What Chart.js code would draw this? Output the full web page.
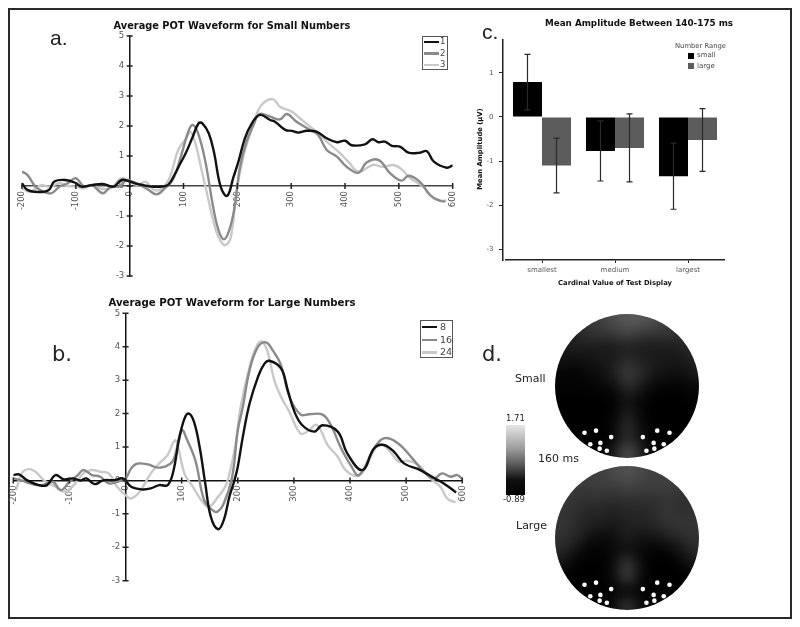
<!DOCTYPE html>
<html>
<head>
<meta charset="utf-8">
<title>POT waveforms</title>
<script src="https://cdn.jsdelivr.net/npm/chart.js@4"></script>
<style>
  html, body { margin: 0; background: #fff; }
  #page { position: relative; width: 800px; height: 627px; overflow: hidden; filter: blur(0.4px); font-family: "DejaVu Sans", sans-serif; color: #333; }
  #frame { position: absolute; left: 8px; top: 8px; width: 780px; height: 607px; border: 2px solid #2a2a2a; }
  canvas { position: absolute; }
  .txt { position: absolute; white-space: nowrap; line-height: 1; }
  .title { font-weight: bold; color: #111; transform: translateX(-50%); }
  .lg { position: absolute; border: 1px solid #555; box-sizing: border-box; background: #fff; }
  #colorbar { position: absolute; left: 506px; top: 425px; width: 19px; height: 70px;
    background: linear-gradient(to bottom, #e6e6e6 0%, #999 35%, #555 58%, #111 78%, #000 100%); }
</style>
</head>
<body>
<div id="page">
  <div id="frame"></div>
  <canvas id="chartA" width="464" height="280" style="left:0;top:20px"></canvas>
  <canvas id="chartB" width="480" height="300" style="left:0;top:300px"></canvas>
  <canvas id="chartC" width="260" height="270" style="left:470px;top:30px"></canvas>
  <canvas id="headSmall" width="144" height="144" style="left:555px;top:314px"></canvas>
  <canvas id="headLarge" width="144" height="144" style="left:555px;top:466px"></canvas>
  <div id="colorbar"></div>
</div>
<script>
// Panel a: [ms, µV]
const smallOne = [[-200,.09],[-190,-.13],[-170,-.2],[-150,-.13],[-140,.15],[-120,.2],[-100,.1],[-90,-.02],[-70,.03],[-50,.07],[-30,-.02],[-15,.2],[0,.15],[10,.09],[25,.03],[40,-.02],[60,-.02],[72,.05],[84,.4],[94,.75],[104,1.09],[116,1.59],[128,2.09],[135,2.09],[147,1.75],[157,1.09],[169,-.02],[181,-.33],[193,.31],[202,.81],[214,1.59],[227,2.09],[242,2.37],[261,2.2],[270,2.14],[289,1.87],[301,1.84],[313,1.78],[329,1.84],[347,1.81],[366,1.59],[385,1.46],[400,1.51],[412,1.36],[437,1.39],[451,1.56],[462,1.46],[474,1.48],[487,1.34],[502,1.31],[518,1.11],[539,1.11],[552,1.16],[565,.81],[589,.61],[600,.69]];
const smallTwo = [[-200,.48],[-190,.37],[-175,-.02],[-160,-.19],[-145,-.24],[-130,-.02],[-115,.09],[-100,.26],[-85,-.02],[-70,.03],[-50,-.24],[-35,-.02],[-20,-.02],[-5,.2],[5,.15],[20,.03],[35,-.13],[50,-.28],[65,-.08],[80,.2],[95,.98],[110,1.87],[118,2.03],[127,1.76],[140,.87],[155,-.69],[165,-1.47],[175,-1.78],[185,-1.47],[195,-.69],[205,.64],[217,1.48],[230,2.03],[241,2.4],[261,2.31],[279,2.22],[292,2.4],[310,2.14],[335,1.87],[350,1.7],[366,1.2],[385,.98],[403,.64],[425,.44],[440,.78],[462,.87],[484,.42],[505,.18],[518,.34],[539,.14],[558,-.3],[576,-.49],[586,-.52]];
const smallThree = [[-200,-.08],[-185,-.19],[-165,.03],[-150,-.02],[-130,.09],[-115,0],[-100,-.02],[-85,-.08],[-70,.03],[-55,-.08],[-35,-.08],[-15,.26],[0,.15],[15,.03],[30,.14],[45,-.13],[60,-.08],[75,.31],[90,1.2],[105,1.59],[113,1.81],[122,1.42],[135,.42],[145,-.36],[160,-1.47],[170,-1.86],[178,-1.97],[188,-1.69],[199,-.13],[211,.98],[224,1.76],[239,2.53],[251,2.81],[267,2.89],[279,2.64],[301,2.48],[316,2.26],[335,1.98],[350,1.76],[366,1.48],[391,1.09],[406,.81],[425,.48],[452,.7],[471,.64],[490,.7],[505,.56],[521,.26],[545,-.02],[564,-.41],[576,-.49],[588,-.49]];
// Panel b: [ms, µV]
const largeEight = [[-200,.16],[-190,.18],[-175,0],[-155,-.14],[-140,-.14],[-125,.16],[-110,.03],[-95,.06],[-80,0],[-70,.06],[-55,-.11],[-40,0],[-20,.01],[-5,.06],[10,-.19],[30,-.27],[45,-.24],[60,-.14],[75,-.14],[85,.26],[95,1.2],[105,1.85],[113,2.0],[122,1.75],[132,1.0],[142,-.09],[152,-1.09],[165,-1.46],[175,-1.19],[185,-.49],[194,0],[200,.41],[209,1.31],[221,2.3],[236,3.1],[247,3.48],[256,3.58],[277,3.35],[289,2.7],[301,2.05],[315,1.65],[336,1.46],[351,1.65],[378,1.46],[395,.81],[422,.31],[443,.96],[460,1.06],[478,.86],[496,.51],[525,.31],[549,.08],[567,-.09],[589,-.36]];
const largeSixteen = [[-200,.06],[-185,0],[-170,-.09],[-150,-.14],[-130,-.04],[-115,-.29],[-100,-.04],[-85,.16],[-75,.31],[-60,.16],[-45,.11],[-30,-.09],[-15,-.04],[0,.06],[10,.36],[20,.5],[40,.48],[55,.39],[70,.41],[85,.6],[100,1.5],[110,1.2],[125,.56],[140,-.59],[155,-.89],[163,-.94],[175,-.69],[190,.11],[200,1.5],[209,2.2],[221,3.3],[236,4.0],[250,4.13],[262,3.9],[277,3.45],[292,2.5],[312,1.97],[327,1.98],[351,1.97],[366,1.65],[383,1.0],[401,.46],[416,.16],[443,.96],[460,1.26],[484,1.13],[511,.66],[531,.26],[549,.06],[564,.21],[579,.11],[591,.16],[600,.04]];
const largeTwentyFour = [[-195,-.29],[-183,.26],[-165,.31],[-145,0],[-125,-.19],[-110,-.34],[-95,-.19],[-75,.21],[-60,.31],[-45,.26],[-30,.21],[-15,-.19],[0,-.44],[10,-.54],[25,-.34],[45,.21],[60,.51],[75,.76],[88,1.2],[95,.9],[105,.2],[120,-.19],[135,-.59],[148,-.79],[165,-.49],[180,-.09],[195,1.0],[205,2.2],[221,3.4],[233,4.0],[243,4.15],[253,3.85],[265,3.0],[277,2.5],[292,2.05],[312,1.4],[327,1.5],[339,1.67],[348,1.5],[360,1.06],[378,.71],[392,.31],[413,.13],[425,.31],[443,.91],[454,1.09],[469,.91],[487,.56],[502,.59],[522,.46],[543,.06],[561,-.19],[573,-.54],[588,-.66]];
const smallLabels = ['1', '2', '3'];
const largeLabels = ['8', '16', '24'];

// Panel c
const categories = ['smallest', 'medium', 'largest'];
const rangeLabels = ['small', 'large'];
const smallMeans = [.79, -.77, -1.34];
const largeMeans = [-1.1, -.7, -.52];
const smallErrors = [.63, .68, .75];
const largeErrors = [.62, .77, .71];

// Panel d: electrodes and amplitude grids (µV, top row = front of head)
const electrodeX = [-.59, -.43, -.22, -.51, -.37, -.38, -.28, .22, .42, .59, .37, .51, .38, .27];
const electrodeY = [-.65, -.62, -.71, -.81, -.79, -.87, -.90, -.71, -.62, -.65, -.79, -.81, -.87, -.90];
const topoSmall = [
  [-.35,-.35,-.35,-.25,-.1,0,0,-.1,-.25,-.35,-.35],
  [-.55,-.55,-.4,-.35,-.3,-.2,-.3,-.35,-.35,-.4,-.4],
  [-.65,-.55,-.6,-.6,-.6,-.55,-.6,-.6,-.6,-.55,-.45],
  [-.7,-.75,-.7,-.65,-.6,-.45,-.55,-.6,-.65,-.65,-.55],
  [-.85,-.85,-.8,-.75,-.55,-.3,-.45,-.65,-.7,-.75,-.65],
  [-.85,-.85,-.85,-.8,-.75,-.45,-.6,-.8,-.85,-.85,-.8],
  [-.89,-.89,-.89,-.89,-.85,-.7,-.8,-.89,-.89,-.89,-.85],
  [-.89,-.89,-.89,-.89,-.85,-.6,-.8,-.89,-.89,-.89,-.89],
  [-.89,-.89,-.89,-.89,-.8,-.45,-.75,-.89,-.89,-.89,-.89],
  [-.89,-.89,-.89,-.89,-.8,-.45,-.7,-.89,-.89,-.89,-.89],
  [-.89,-.89,-.89,-.89,-.6,-.1,-.5,-.89,-.89,-.89,-.89]
];
const topoLarge = [
  [-.25,-.25,-.25,-.25,-.15,-.05,-.15,-.25,-.25,-.25,-.25],
  [-.3,-.3,-.3,-.25,-.25,-.2,-.25,-.25,-.25,-.3,-.3],
  [-.35,-.35,-.4,-.4,-.45,-.4,-.4,-.4,-.35,-.4,-.4],
  [-.35,-.4,-.5,-.5,-.55,-.5,-.5,-.45,-.35,-.4,-.4],
  [-.35,-.45,-.55,-.6,-.65,-.55,-.55,-.5,-.4,-.35,-.35],
  [-.4,-.5,-.7,-.8,-.75,-.6,-.7,-.7,-.6,-.5,-.4],
  [-.5,-.7,-.85,-.85,-.8,-.7,-.8,-.85,-.85,-.7,-.5],
  [-.7,-.85,-.89,-.89,-.75,-.3,-.75,-.89,-.89,-.85,-.7],
  [-.85,-.89,-.89,-.89,-.75,-.3,-.75,-.89,-.89,-.89,-.85],
  [-.89,-.89,-.89,-.89,-.85,-.8,-.85,-.89,-.89,-.89,-.89],
  [-.89,-.89,-.89,-.89,-.75,-.4,-.75,-.89,-.89,-.89,-.89]
];

const lineColors = ['#111111', '#8a8a8a', '#c9c9c9'];
const barColors = ['#000000', '#5c5c5c'];
const page = document.getElementById('page');

function addText(text, x, y, size, extra) {
  const el = document.createElement('div');
  el.className = 'txt';
  el.textContent = text;
  el.style.cssText = `left:${x}px;top:${y}px;font-size:${size}px;${extra || ''}`;
  page.appendChild(el);
  return el;
}

function addTitle(text, cx, y, size) {
  addText(text, cx, y, size).classList.add('title');
}

function addLineLegend(labels, x, y, w, h, rows, swatchX, swatchW, textX, size) {
  const box = document.createElement('div');
  box.className = 'lg';
  box.style.cssText = `left:${x}px;top:${y}px;width:${w}px;height:${h}px`;
  page.appendChild(box);
  labels.forEach((label, i) => {
    const sw = document.createElement('div');
    sw.style.cssText = `position:absolute;left:${swatchX}px;top:${rows[i] - 1}px;width:${swatchW}px;height:2.5px;background:${lineColors[i]}`;
    page.appendChild(sw);
    addText(label, textX, rows[i] - size / 2, size, 'color:#444');
  });
}

// ticks that sit across the axis line, as in the original figure
const crossTicks = {
  id: 'crossTicks',
  afterDraw(chart) {
    const ctx = chart.ctx;
    const sx = chart.scales.x, sy = chart.scales.y;
    const x0 = sx.getPixelForValue(0), y0 = sy.getPixelForValue(0);
    ctx.save();
    ctx.strokeStyle = '#222';
    ctx.lineWidth = 1.5;
    ctx.beginPath();
    sx.ticks.forEach(t => {
      const p = sx.getPixelForValue(t.value);
      ctx.moveTo(p, y0 - 3);
      ctx.lineTo(p, y0 + 3);
    });
    sy.ticks.forEach(t => {
      const p = sy.getPixelForValue(t.value);
      ctx.moveTo(x0 - 3, p);
      ctx.lineTo(x0 + 3, p);
    });
    ctx.stroke();
    ctx.restore();
  }
};

// end labels must not shrink the plot area
function noScalePadding(scale) {
  scale.paddingLeft = 0;
  scale.paddingRight = 0;
  scale.paddingTop = 0;
  scale.paddingBottom = 0;
}

function waveformChart(id, seriesList, labels, padding, axisColor) {
  return new Chart(document.getElementById(id), {
    type: 'line',
    data: {
      datasets: seriesList.map((series, i) => ({
        label: labels[i],
        data: series.map(p => ({ x: p[0], y: p[1] })),
        borderColor: lineColors[i],
        borderWidth: 2.4,
        pointRadius: 0,
        tension: 0.4,
        fill: false
      }))
    },
    options: {
      responsive: false,
      animation: false,
      layout: { padding, autoPadding: false },
      plugins: { legend: { display: false }, tooltip: { enabled: false } },
      scales: {
        x: {
          type: 'linear',
          position: { y: 0 },
          min: -200,
          max: 600,
          afterFit: noScalePadding,
          grid: { drawOnChartArea: false, drawTicks: false },
          border: { color: axisColor, width: 1.5 },
          ticks: { stepSize: 100, autoSkip: false, minRotation: 90, maxRotation: 90, padding: 5, color: '#555', font: { size: 8.5, family: 'DejaVu Sans' } }
        },
        y: {
          type: 'linear',
          position: { x: 0 },
          min: -3,
          max: 5,
          afterFit: noScalePadding,
          grid: { drawOnChartArea: false, drawTicks: false },
          border: { color: '#111', width: 1.5 },
          // labels at an object position ignore ticks.padding, so pad the text itself
          ticks: { stepSize: 1, color: '#555', font: { size: 8.5, family: 'DejaVu Sans' }, callback: v => v + '\u00a0\u00a0' }
        }
      }
    },
    plugins: [crossTicks]
  });
}

waveformChart('chartA', [smallOne, smallTwo, smallThree], smallLabels,
  { left: 22, right: 11.3, top: 16, bottom: 24 }, '#444');
waveformChart('chartB', [largeEight, largeSixteen, largeTwentyFour], largeLabels,
  { left: 13.3, right: 17.7, top: 13.3, bottom: 19.3 }, '#111');

// error bars for the bar chart, measured through the y scale
const errorBars = {
  id: 'errorBars',
  afterDatasetsDraw(chart) {
    const ctx = chart.ctx;
    const yScale = chart.scales.y;
    ctx.save();
    ctx.strokeStyle = '#2a2a2a';
    ctx.lineWidth = 1.2;
    chart.data.datasets.forEach((ds, d) => {
      chart.getDatasetMeta(d).data.forEach((bar, i) => {
        const top = yScale.getPixelForValue(ds.data[i] + ds.errors[i]);
        const bottom = yScale.getPixelForValue(ds.data[i] - ds.errors[i]);
        ctx.beginPath();
        ctx.moveTo(bar.x, top);
        ctx.lineTo(bar.x, bottom);
        ctx.moveTo(bar.x - 3, top);
        ctx.lineTo(bar.x + 3, top);
        ctx.moveTo(bar.x - 3, bottom);
        ctx.lineTo(bar.x + 3, bottom);
        ctx.stroke();
      });
    });
    ctx.restore();
  }
};

new Chart(document.getElementById('chartC'), {
  type: 'bar',
  data: {
    labels: categories,
    datasets: [
      { label: rangeLabels[0], data: smallMeans, errors: smallErrors, backgroundColor: barColors[0] },
      { label: rangeLabels[1], data: largeMeans, errors: largeErrors, backgroundColor: barColors[1] }
    ]
  },
  options: {
    responsive: false,
    animation: false,
    layout: { padding: { left: 35.5, right: 5.5, top: 10, bottom: 13 }, autoPadding: false },
    plugins: { legend: { display: false }, tooltip: { enabled: false } },
    datasets: { bar: { categoryPercentage: 0.795, barPercentage: 1 } },
    scales: {
      x: {
        afterFit(scale) { noScalePadding(scale); scale.height = 27; },
        grid: { offset: false, drawOnChartArea: false, tickLength: 3, color: '#222' },
        border: { color: '#222', width: 1.5 },
        ticks: { color: '#555', padding: 3, font: { size: 7, family: 'DejaVu Sans' } },
        title: { display: true, text: 'Cardinal Value of Test Display', color: '#111', padding: { top: 3, bottom: 0 }, font: { size: 6.8, weight: 'bold', family: 'DejaVu Sans' } }
      },
      y: {
        position: { x: -0.544 },
        min: -3.24,
        max: 1.744,
        afterFit: noScalePadding,
        grid: { drawOnChartArea: false, tickLength: 3, color: '#222' },
        border: { color: '#222', width: 1.5 },
        ticks: { stepSize: 1, includeBounds: false, color: '#555', font: { size: 7, family: 'DejaVu Sans' }, callback: v => v + '\u00a0\u00a0\u00a0\u00a0' }
      }
    }
  },
  plugins: [errorBars]
});

// paints the amplitude grid inside the head circle, behind the electrodes
const headMap = {
  id: 'headMap',
  beforeDatasetsDraw(chart) {
    const grid = chart.config.options.plugins.headMap.grid;
    const { ctx, chartArea: a } = chart;
    const cols = grid[0].length, rows = grid.length;
    // one repeated cell round the edge so the blur does not fade at the rim
    const small = document.createElement('canvas');
    small.width = cols + 2;
    small.height = rows + 2;
    const sc = small.getContext('2d');
    for (let r = -1; r <= rows; r++) {
      for (let c = -1; c <= cols; c++) {
        const v = grid[Math.min(rows - 1, Math.max(0, r))][Math.min(cols - 1, Math.max(0, c))];
        const g = Math.round((v + 0.89) / 2.6 * 255);
        sc.fillStyle = `rgb(${g},${g},${g})`;
        sc.fillRect(c + 1, r + 1, 1, 1);
      }
    }
    const cx = chart.scales.x.getPixelForValue(0);
    const cy = chart.scales.y.getPixelForValue(0);
    const w = a.right - a.left;
    const cell = w / cols;
    ctx.save();
    ctx.beginPath();
    ctx.arc(cx, cy, w / 2, 0, Math.PI * 2);
    ctx.clip();
    ctx.imageSmoothingEnabled = true;
    ctx.imageSmoothingQuality = 'high';
    ctx.filter = 'blur(4px)';
    ctx.drawImage(small, a.left - cell, a.top - cell, w + 2 * cell, w + 2 * cell);
    ctx.restore();
  }
};

function headChart(id, grid) {
  return new Chart(document.getElementById(id), {
    type: 'scatter',
    data: {
      datasets: [{
        data: electrodeX.map((x, i) => ({ x, y: electrodeY[i] })),
        pointRadius: 2.3,
        pointBackgroundColor: '#fff',
        pointBorderWidth: 0
      }]
    },
    options: {
      responsive: false,
      animation: false,
      layout: { padding: 0, autoPadding: false },
      plugins: { legend: { display: false }, tooltip: { enabled: false }, headMap: { grid } },
      scales: {
        x: { display: false, min: -1, max: 1 },
        y: { display: false, min: -1, max: 1 }
      }
    },
    plugins: [headMap]
  });
}

headChart('headSmall', topoSmall);
headChart('headLarge', topoLarge);

// titles, panel letters, legends
addTitle('Average POT Waveform for Small Numbers', 232, 21, 9.8);
addTitle('Average POT Waveform for Large Numbers', 232, 298, 10.2);
addTitle('Mean Amplitude Between 140-175 ms', 639, 19, 8.8);
addText('a.', 50, 27, 21, 'font-family:\'Liberation Sans\';color:#222');
addText('b.', 52, 344, 21, 'color:#222');
addText('c.', 482, 21, 21, 'font-family:\'Liberation Sans\';color:#222');
addText('d.', 482, 344, 21, 'color:#222');
addText('Small', 515, 373, 11, 'color:#222');
addText('Large', 516, 520, 11, 'color:#222');
addText('160 ms', 538, 453, 11, 'color:#222');
addText('1.71', 506, 414, 8.5, 'color:#222');
addText('-0.89', 503, 495, 8.5, 'color:#222');
addText('Mean Amplitude (µV)', 480, 149, 6.8, 'font-weight:bold;color:#111;transform:translate(-50%,-50%) rotate(-90deg)');

addLineLegend(smallLabels, 422, 36, 26, 34, [41.7, 53, 64.7], 423.5, 15, 440, 8.5);
addLineLegend(largeLabels, 420, 320, 33, 38, [326.7, 339.7, 352], 421.5, 15, 440, 9.5);

addText('Number Range', 675, 43, 6.8, 'color:#444');
rangeLabels.forEach((label, i) => {
  const sw = document.createElement('div');
  sw.style.cssText = `position:absolute;left:688px;top:${52.7 + i * 10.5}px;width:6px;height:6px;background:${barColors[i]}`;
  page.appendChild(sw);
  addText(label, 697, 52 + i * 10.5, 7, 'color:#444');
});
</script>
</body>
</html>
